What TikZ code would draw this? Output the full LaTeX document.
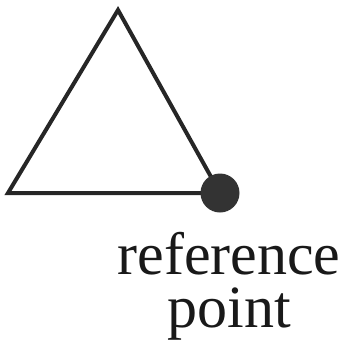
\documentclass[tikz,border=0pt]{standalone}
\usepackage{fontspec}
\setmainfont{Liberation Serif}
\begin{document}
\begin{tikzpicture}[x=1bp, y=-1bp,
    edge/.style={line width=4bp, draw=black!85, line join=miter},
    refdot/.style={circle, fill=black!80, minimum size=39bp, inner sep=0pt},
    lbl/.style={font=\fontsize{60bp}{53bp}\selectfont, text=black!90, inner sep=0pt, align=center, anchor=base}]
    \useasboundingbox (0,0) rectangle (352,361);
    % Triangle corners
    \coordinate (apex) at (118,10);
    \coordinate (corner) at (8,193);
    \coordinate (refpt) at (220,193);
    \draw[edge] (refpt) -- (apex) -- (corner) -- cycle;
    % Reference point and its label
    \node[refdot] (dot) at (refpt) {};
    \node[lbl] (reflabel) at (229,327) {reference\\point};
\end{tikzpicture}
\end{document}
